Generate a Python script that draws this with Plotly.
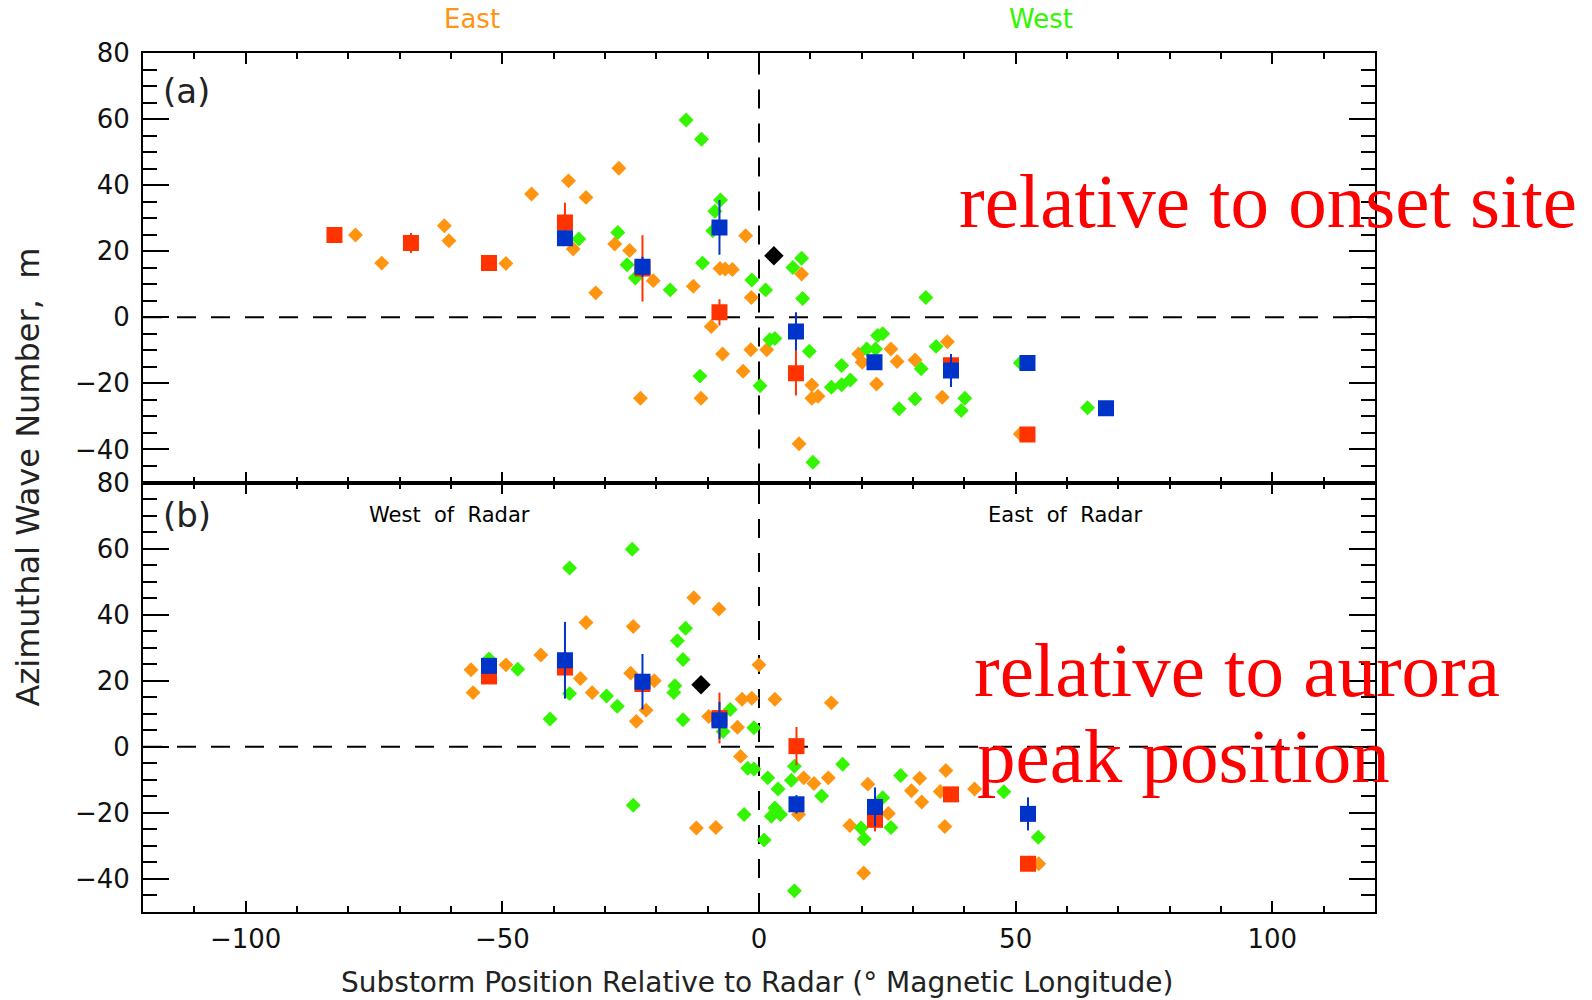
import plotly.graph_objects as go

# ---------------- data: panel (a) relative to onset site ----------------
a_orange_x = [-78.6, -73.5, -61.3, -60.4, -49.3, -44.3, -37.1, -27.3, -33.7, -36.2, -28.1, -25.2,
              -20.6, -31.8, -12.8, -7.6, -6.6, -5.2, -2.6, -1.5, -9.3, -7.1, -1.6, 1.5, -3.1,
              -23.1, -11.3, 8.3, 10.3, 10.3, 11.5, 7.8, 19.4, 20.1, 22.9, 25.7, 26.9, 30.4,
              36.7, 35.7, 50.9]
a_orange_y = [24.9, 16.4, 27.7, 23.2, 16.3, 37.3, 41.3, 45.1, 36.3, 20.7, 22.2, 20.2,
              11.1, 7.4, 9.4, 14.8, 14.6, 14.5, 24.7, 6.0, -2.8, -11.1, -9.8, -9.8, -16.3,
              -24.5, -24.5, 13.1, -20.5, -24.5, -23.9, -38.3, -11.1, -13.6, -20.2, -9.6, -13.4, -12.9,
              -7.4, -24.2, -35.3]
a_green_x = [-35.1, -27.5, -25.7, -24.1, -17.3, -14.2, -11.2, -7.5, -8.6, -9.0, -11.0, -1.4,
             1.3, 2.1, 3.1, -11.5, 0.2, 6.6, 8.3, 8.5, 9.8, 10.5, 14.1, 16.1, 17.8, 16.1,
             23.1, 24.1, 21.0, 22.7, 31.6, 27.3, 30.4, 32.5, 34.5, 40.1, 39.4, 50.9, 64.0]
a_green_y = [23.7, 25.7, 15.9, 11.9, 8.3, 59.7, 53.9, 35.5, 32.1, 26.2, 16.4, 11.3,
             8.3, -6.8, -6.4, -17.8, -20.7, 15.1, 17.9, 5.7, -10.3, -43.9, -21.2, -20.4, -19.0, -14.6,
             -5.5, -5.0, -9.6, -9.6, -15.6, -27.7, -24.7, 6.0, -8.8, -24.5, -28.2, -13.8, -27.4]
a_red_x = [-82.7, -67.8, -52.6, -37.8, -22.7, -7.7, 7.2, 37.4, 52.3]
a_red_y = [24.9, 22.5, 16.4, 28.7, 14.8, 1.5, -16.9, -14.5, -35.5]
a_red_err = [0.0, 3.0, 0.0, 6.0, 10.0, 4.0, 6.8, 0.0, 0.0]
a_blue_x = [-37.8, -22.7, -7.7, 7.2, 22.5, 37.4, 52.3, 67.6]
a_blue_y = [23.9, 15.3, 27.2, -4.3, -13.6, -16.1, -13.8, -27.5]
a_blue_err = [0.0, 3.0, 8.3, 5.8, 0.0, 5.0, 0.0, 0.0]
a_black_x = [2.9]
a_black_y = [18.6]

# ---------------- data: panel (b) relative to aurora peak position ----------------
b_orange_x = [-56.1, -55.7, -49.3, -42.5, -33.7, -34.8, -32.5, -24.5, -25.0, -20.4, -22.0, -23.9,
              -12.7, -7.8, -9.8, -3.3, -1.4, -4.2, 0.0, 3.1, 14.1, -3.6, 8.7, 10.7, 13.5, 7.7,
              -12.2, -8.4, 21.2, 17.7, 25.2, 20.4, 31.3, 29.7, 31.7, 36.4, 35.3, 36.2, 42.0, 54.5]
b_orange_y = [23.3, 16.4, 24.8, 27.8, 37.6, 20.7, 16.4, 36.4, 22.3, 20.0, 11.1, 7.7,
              45.1, 41.7, 9.2, 14.4, 14.7, 5.9, 24.8, 14.4, 13.3, -2.9, -9.4, -11.1, -9.4, -20.5,
              -24.6, -24.4, -11.3, -23.8, -20.2, -38.2, -9.5, -13.3, -16.7, -7.2, -13.5, -24.1, -12.8, -35.4]
b_green_x = [-52.6, -47.0, -40.7, -36.9, -36.9, -29.7, -27.6, -24.7, -24.5, -14.3, -15.9, -14.8,
             -16.4, -16.6, -14.8, -5.6, -7.0, -1.0, -2.2, -1.0, 1.7, 3.7, 6.3, 6.9, 12.2, 16.3,
             -2.9, 2.4, 3.1, 4.2, 1.0, 6.9, 19.9, 20.5, 24.1, 25.7, 27.6, 47.7, 54.4]
b_green_y = [26.6, 23.5, 8.4, 54.1, 16.1, 15.4, 12.3, 59.8, -17.7, 35.9, 32.1, 26.4,
             18.5, 16.4, 8.2, 11.3, 4.6, 5.8, -6.5, -6.7, -9.4, -12.8, -10.1, -5.9, -14.9, -5.3,
             -20.5, -21.0, -18.5, -20.5, -28.2, -43.6, -24.6, -27.9, -15.4, -24.4, -8.7, -13.6, -27.4]
b_red_x = [-52.6, -37.8, -22.7, -7.7, 7.3, 22.6, 37.4, 52.4]
b_red_y = [21.3, 24.0, 19.0, 8.7, 0.2, -22.1, -14.4, -35.4]
b_red_err = [0.0, 0.0, 0.0, 7.7, 5.8, 3.5, 0.0, 0.0]
b_blue_x = [-52.6, -37.8, -22.7, -7.7, 7.3, 22.6, 52.4]
b_blue_y = [24.5, 26.2, 19.7, 8.0, -17.4, -18.2, -20.3]
b_blue_err = [0.0, 11.6, 8.4, 5.6, 2.8, 5.9, 5.0]
b_black_x = [-11.3]
b_black_y = [18.8]

x_tickvals = [-100, -50, 0, 50, 100]
y_tickvals = [-40, -20, 0, 20, 40, 60, 80]

ORANGE = "#FF9410"
GREEN = "#33F500"
RED = "#FF3300"
BLUE = "#0033C8"

fig = go.Figure()


def add_panel(xa, ya, ox, oy, gx, gy, rx, ry, re, bx, by, be, kx, ky):
    fig.add_trace(go.Scatter(x=ox, y=oy, mode="markers", xaxis=xa, yaxis=ya,
                             marker=dict(symbol="diamond", size=11.5, color=ORANGE)))
    fig.add_trace(go.Scatter(x=gx, y=gy, mode="markers", xaxis=xa, yaxis=ya,
                             marker=dict(symbol="diamond", size=11.5, color=GREEN)))
    fig.add_trace(go.Scatter(x=rx, y=ry, mode="markers", xaxis=xa, yaxis=ya,
                             marker=dict(symbol="square", size=16, color=RED),
                             error_y=dict(type="data", array=re, visible=True, color=RED,
                                          thickness=2, width=0)))
    fig.add_trace(go.Scatter(x=bx, y=by, mode="markers", xaxis=xa, yaxis=ya,
                             marker=dict(symbol="square", size=16, color=BLUE),
                             error_y=dict(type="data", array=be, visible=True, color=BLUE,
                                          thickness=2, width=0)))
    fig.add_trace(go.Scatter(x=kx, y=ky, mode="markers", xaxis=xa, yaxis=ya,
                             marker=dict(symbol="diamond", size=15, color="black")))


add_panel("x2", "y2", a_orange_x, a_orange_y, a_green_x, a_green_y, a_red_x, a_red_y, a_red_err,
          a_blue_x, a_blue_y, a_blue_err, a_black_x, a_black_y)
add_panel("x", "y", b_orange_x, b_orange_y, b_green_x, b_green_y, b_red_x, b_red_y, b_red_err,
          b_blue_x, b_blue_y, b_blue_err, b_black_x, b_black_y)

tickfont = dict(family="DejaVu Sans, sans-serif", size=26, color="#111")
xcommon = dict(range=[-120, 120], tickvals=x_tickvals, ticks="inside", ticklen=11, tickwidth=2,
               tickcolor="black", showline=True, linecolor="black", linewidth=2, mirror="ticks",
               showgrid=False, zeroline=False, tickfont=tickfont, ticklabelstandoff=3,
               minor=dict(dtick=10, ticks="inside", ticklen=6, tickwidth=2, tickcolor="black",
                          showgrid=False))
ycommon = dict(range=[-50, 80], tickvals=y_tickvals, ticks="inside", ticklen=26, tickwidth=2,
               tickcolor="black", showline=True, linecolor="black", linewidth=2, mirror="ticks",
               showgrid=False, zeroline=False, tickfont=tickfont, ticklabelstandoff=6,
               minor=dict(dtick=5, ticks="inside", ticklen=14, tickwidth=2, tickcolor="black",
                          showgrid=False))

fig.update_layout(
    width=1592, height=1000,
    margin=dict(l=143, r=217, t=53, b=88),
    paper_bgcolor="white", plot_bgcolor="white",
    showlegend=False,
    xaxis=dict(domain=[0, 1], anchor="y", **xcommon),
    yaxis=dict(domain=[0, 0.5], anchor="x", **ycommon),
    xaxis2=dict(domain=[0, 1], anchor="y2", showticklabels=False, **xcommon),
    yaxis2=dict(domain=[0.5, 1], anchor="x2", **ycommon),
)

dash_line = dict(color="black", width=2, dash="19px,15px")
for xa, ya in (("x", "y"), ("x2", "y2")):
    fig.add_shape(type="line", xref=xa, yref=f"{ya} domain", x0=0, x1=0, y0=0, y1=1,
                  line=dash_line, layer="below")
    fig.add_shape(type="line", xref=f"{xa} domain", yref=ya, x0=0, x1=1, y0=0, y1=0,
                  line=dash_line, layer="below")

lab = dict(family="DejaVu Sans, sans-serif", color="#222")
serif = "Liberation Serif, serif"
ann = [
    dict(text="(a)", x=-111.5, y=68.5, xref="x2", yref="y2", showarrow=False,
         font=dict(size=34, **lab)),
    dict(text="(b)", x=-111.5, y=70.1, xref="x", yref="y", showarrow=False,
         font=dict(size=34, **lab)),
    dict(text="West  of  Radar", x=-60.3, y=70.1, xref="x", yref="y", showarrow=False,
         font=dict(size=21, family="DejaVu Sans, sans-serif", color="black")),
    dict(text="East  of  Radar", x=59.6, y=70.1, xref="x", yref="y", showarrow=False,
         font=dict(size=21, family="DejaVu Sans, sans-serif", color="black")),
    dict(text="East", x=-56, y=1.0396, xref="x2", yref="paper", showarrow=False,
         yanchor="middle", font=dict(size=26, family="DejaVu Sans, sans-serif", color=ORANGE)),
    dict(text="West", x=54.9, y=1.0396, xref="x2", yref="paper", showarrow=False,
         yanchor="middle", font=dict(size=26, family="DejaVu Sans, sans-serif", color=GREEN)),
    dict(text="relative to onset site", x=38.6, y=35.3, xref="x2", yref="y2", xanchor="left",
         yanchor="middle", showarrow=False, font=dict(size=77, family=serif, color="#FF0000")),
    dict(text="relative to aurora", x=41.5, y=23.4, xref="x", yref="y", xanchor="left",
         yanchor="middle", showarrow=False, font=dict(size=77, family=serif, color="#FF0000")),
    dict(text="peak position", x=42.1, y=-2.7, xref="x", yref="y", xanchor="left",
         yanchor="middle", showarrow=False, font=dict(size=77, family=serif, color="#FF0000")),
    dict(text="Azimuthal Wave Number,\u00a0 m", x=-0.0933, y=0.506, xref="paper", yref="paper",
         xanchor="center", yanchor="middle", textangle=-90, showarrow=False,
         font=dict(size=32, **lab)),
    dict(text="Substorm Position Relative to Radar (\u00b0 Magnetic Longitude)", x=0.498,
         y=-0.0815, xref="paper", yref="paper", xanchor="center", yanchor="middle",
         showarrow=False, font=dict(size=28, **lab)),
]
fig.update_layout(annotations=ann)

fig.write_html("out.html")
